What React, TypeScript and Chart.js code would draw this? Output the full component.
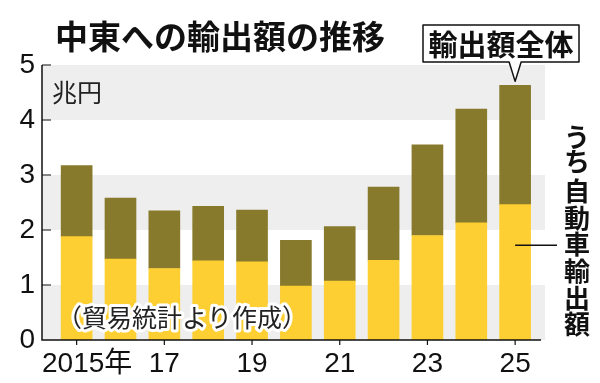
import React, { useEffect, useRef } from "react";
import { Chart, registerables } from "chart.js";

Chart.register(...registerables);

const years = [2015, 2016, 2017, 2018, 2019, 2020, 2021, 2022, 2023, 2024, 2025];
const totalExports = [3.17, 2.58, 2.35, 2.43, 2.36, 1.81, 2.06, 2.78, 3.55, 4.2, 4.63];
const autoExports = [1.88, 1.47, 1.3, 1.44, 1.42, 0.98, 1.07, 1.45, 1.9, 2.13, 2.46];
const xTickYears = [2015, 2017, 2019, 2021, 2023, 2025];
const yTicks = [0, 1, 2, 3, 4, 5];
const bandRanges = [[0, 1], [2, 3], [4, 5]];

const TITLE = "中東への輸出額の推移";
const UNIT = "兆円";
const SOURCE = "（貿易統計より作成）";
const CALLOUT = "輸出額全体";
const SIDE_LABEL = ["う", "ち", "自", "動", "車", "輸", "出", "額"];

const OLIVE = "#877a2c";
const YELLOW = "#fdcf33";
const BAND = "#eeeeee";
const JP = '"Noto Sans CJK JP", "Noto Sans", sans-serif';
const NUM = '"Liberation Sans", Arial, "Noto Sans CJK JP", sans-serif';

const decorPlugin = {
  id: "decor",
  beforeDatasetsDraw(chart: any) {
    const { ctx, chartArea, scales } = chart;
    const y = scales.y;
    ctx.save();
    ctx.fillStyle = BAND;
    for (const [a, b] of bandRanges) {
      const top = y.getPixelForValue(b);
      const bot = y.getPixelForValue(a);
      ctx.fillRect(chartArea.left, top, chartArea.right - chartArea.left + 4, bot - top);
    }
    ctx.fillStyle = "#222";
    ctx.font = `25px ${JP}`;
    ctx.textBaseline = "middle";
    ctx.textAlign = "left";
    ctx.fillText(UNIT, chartArea.left + 10, y.getPixelForValue(4.5));
    ctx.restore();
  },
  afterDraw(chart: any) {
    const { ctx, chartArea, scales } = chart;
    const x = scales.x;
    const y = scales.y;
    ctx.save();
    // axes
    ctx.strokeStyle = "#111";
    ctx.lineWidth = 1.5;
    ctx.beginPath();
    ctx.moveTo(chartArea.left, chartArea.top);
    ctx.lineTo(chartArea.left, chartArea.bottom);
    ctx.lineTo(chartArea.right, chartArea.bottom);
    ctx.stroke();
    ctx.lineWidth = 1.2;
    ctx.beginPath();
    for (const v of yTicks) {
      if (v === 0) continue;
      const py = y.getPixelForValue(v);
      ctx.moveTo(chartArea.left, py);
      ctx.lineTo(chartArea.left + 9, py);
    }
    for (const yr of xTickYears) {
      const px = x.getPixelForValue(yr);
      ctx.moveTo(px, chartArea.bottom);
      ctx.lineTo(px, chartArea.bottom + 5);
    }
    ctx.stroke();

    // x labels
    ctx.fillStyle = "#111";
    ctx.font = `28px ${NUM}`;
    ctx.textBaseline = "alphabetic";
    for (const yr of xTickYears) {
      const px = x.getPixelForValue(yr);
      if (yr === years[0]) {
        ctx.textAlign = "left";
        ctx.fillText(String(yr) + "年", chartArea.left, chartArea.bottom + 32);
      } else {
        ctx.textAlign = "center";
        ctx.fillText(String(yr % 100), px, chartArea.bottom + 32);
      }
    }

    // title
    ctx.font = `bold 33px ${JP}`;
    ctx.textAlign = "left";
    ctx.textBaseline = "middle";
    ctx.fillStyle = "#111";
    ctx.fillText(TITLE, 55, 36);

    // source note with halo
    ctx.font = `25px ${JP}`;
    ctx.textBaseline = "middle";
    ctx.lineJoin = "round";
    ctx.strokeStyle = "#fff";
    ctx.lineWidth = 6;
    ctx.strokeText(SOURCE, 57, 317);
    ctx.fillStyle = "#222";
    ctx.fillText(SOURCE, 57, 317);

    // callout for total
    const last = years.length - 1;
    const lx = x.getPixelForValue(years[last]);
    const ltop = y.getPixelForValue(totalExports[last]);
    const bx0 = 423, bx1 = 579, by0 = 25, by1 = 62;
    const tipY = ltop - 4;
    ctx.fillStyle = "#fff";
    ctx.strokeStyle = "#111";
    ctx.lineWidth = 1.5;
    ctx.beginPath();
    ctx.moveTo(bx0, by0);
    ctx.lineTo(bx1, by0);
    ctx.lineTo(bx1, by1);
    ctx.lineTo(lx + 6, by1);
    ctx.lineTo(lx, tipY);
    ctx.lineTo(lx - 6, by1);
    ctx.lineTo(bx0, by1);
    ctx.closePath();
    ctx.fill();
    ctx.stroke();
    ctx.fillStyle = "#111";
    ctx.font = `bold 29px ${JP}`;
    ctx.textAlign = "center";
    ctx.fillText(CALLOUT, (bx0 + bx1) / 2, (by0 + by1) / 2 + 1);

    // leader line for auto exports
    const ly = y.getPixelForValue(autoExports[last] * 0.7);
    ctx.strokeStyle = "#111";
    ctx.lineWidth = 1.5;
    ctx.beginPath();
    ctx.moveTo(lx, ly);
    ctx.lineTo(557, ly);
    ctx.stroke();

    // vertical label
    ctx.font = `bold 26px ${JP}`;
    ctx.textAlign = "center";
    ctx.textBaseline = "middle";
    const centers = [137, 161, 191, 218, 244, 271, 298, 324];
    SIDE_LABEL.forEach((ch, i) => ctx.fillText(ch, 577, centers[i]));
    ctx.restore();
  },
};

export default function App() {
  const ref = useRef<HTMLCanvasElement | null>(null);
  useEffect(() => {
    const canvas = ref.current;
    if (!canvas) return;
    const chart = new Chart(canvas, {
      type: "bar",
      data: {
        datasets: [
          {
            label: "うち自動車輸出額",
            data: years.map((yr, i) => ({ x: yr, y: autoExports[i] })),
            backgroundColor: YELLOW,
            borderWidth: 0,
            barThickness: 31,
          },
          {
            label: "その他",
            data: years.map((yr, i) => ({ x: yr, y: +(totalExports[i] - autoExports[i]).toFixed(3) })),
            backgroundColor: OLIVE,
            borderWidth: 0,
            barThickness: 31,
          },
        ],
      },
      options: {
        animation: false,
        responsive: false,
        devicePixelRatio: 1,
        layout: { padding: { top: 65, right: 59, bottom: 43, left: 0 } },
        plugins: { legend: { display: false }, tooltip: { enabled: false }, title: { display: false } },
        scales: {
          x: {
            type: "linear",
            stacked: true,
            offset: false,
            min: 2014.21,
            max: 2025.59,
            display: false,
          },
          y: {
            stacked: true,
            min: 0,
            max: 5,
            afterFit: (s: any) => {
              s.width = 42;
            },
            border: { display: false },
            grid: { display: false, drawTicks: false },
            ticks: {
              stepSize: 1,
              padding: 7,
              color: "#111",
              font: { family: NUM, size: 28 },
            },
          },
        },
      },
      plugins: [decorPlugin],
    } as any);
    return () => chart.destroy();
  }, []);
  return (
    <div style={{ position: "absolute", left: 0, top: 0, width: 600, height: 383, background: "#fff" }}>
      <canvas ref={ref} width={600} height={383} />
    </div>
  );
}
